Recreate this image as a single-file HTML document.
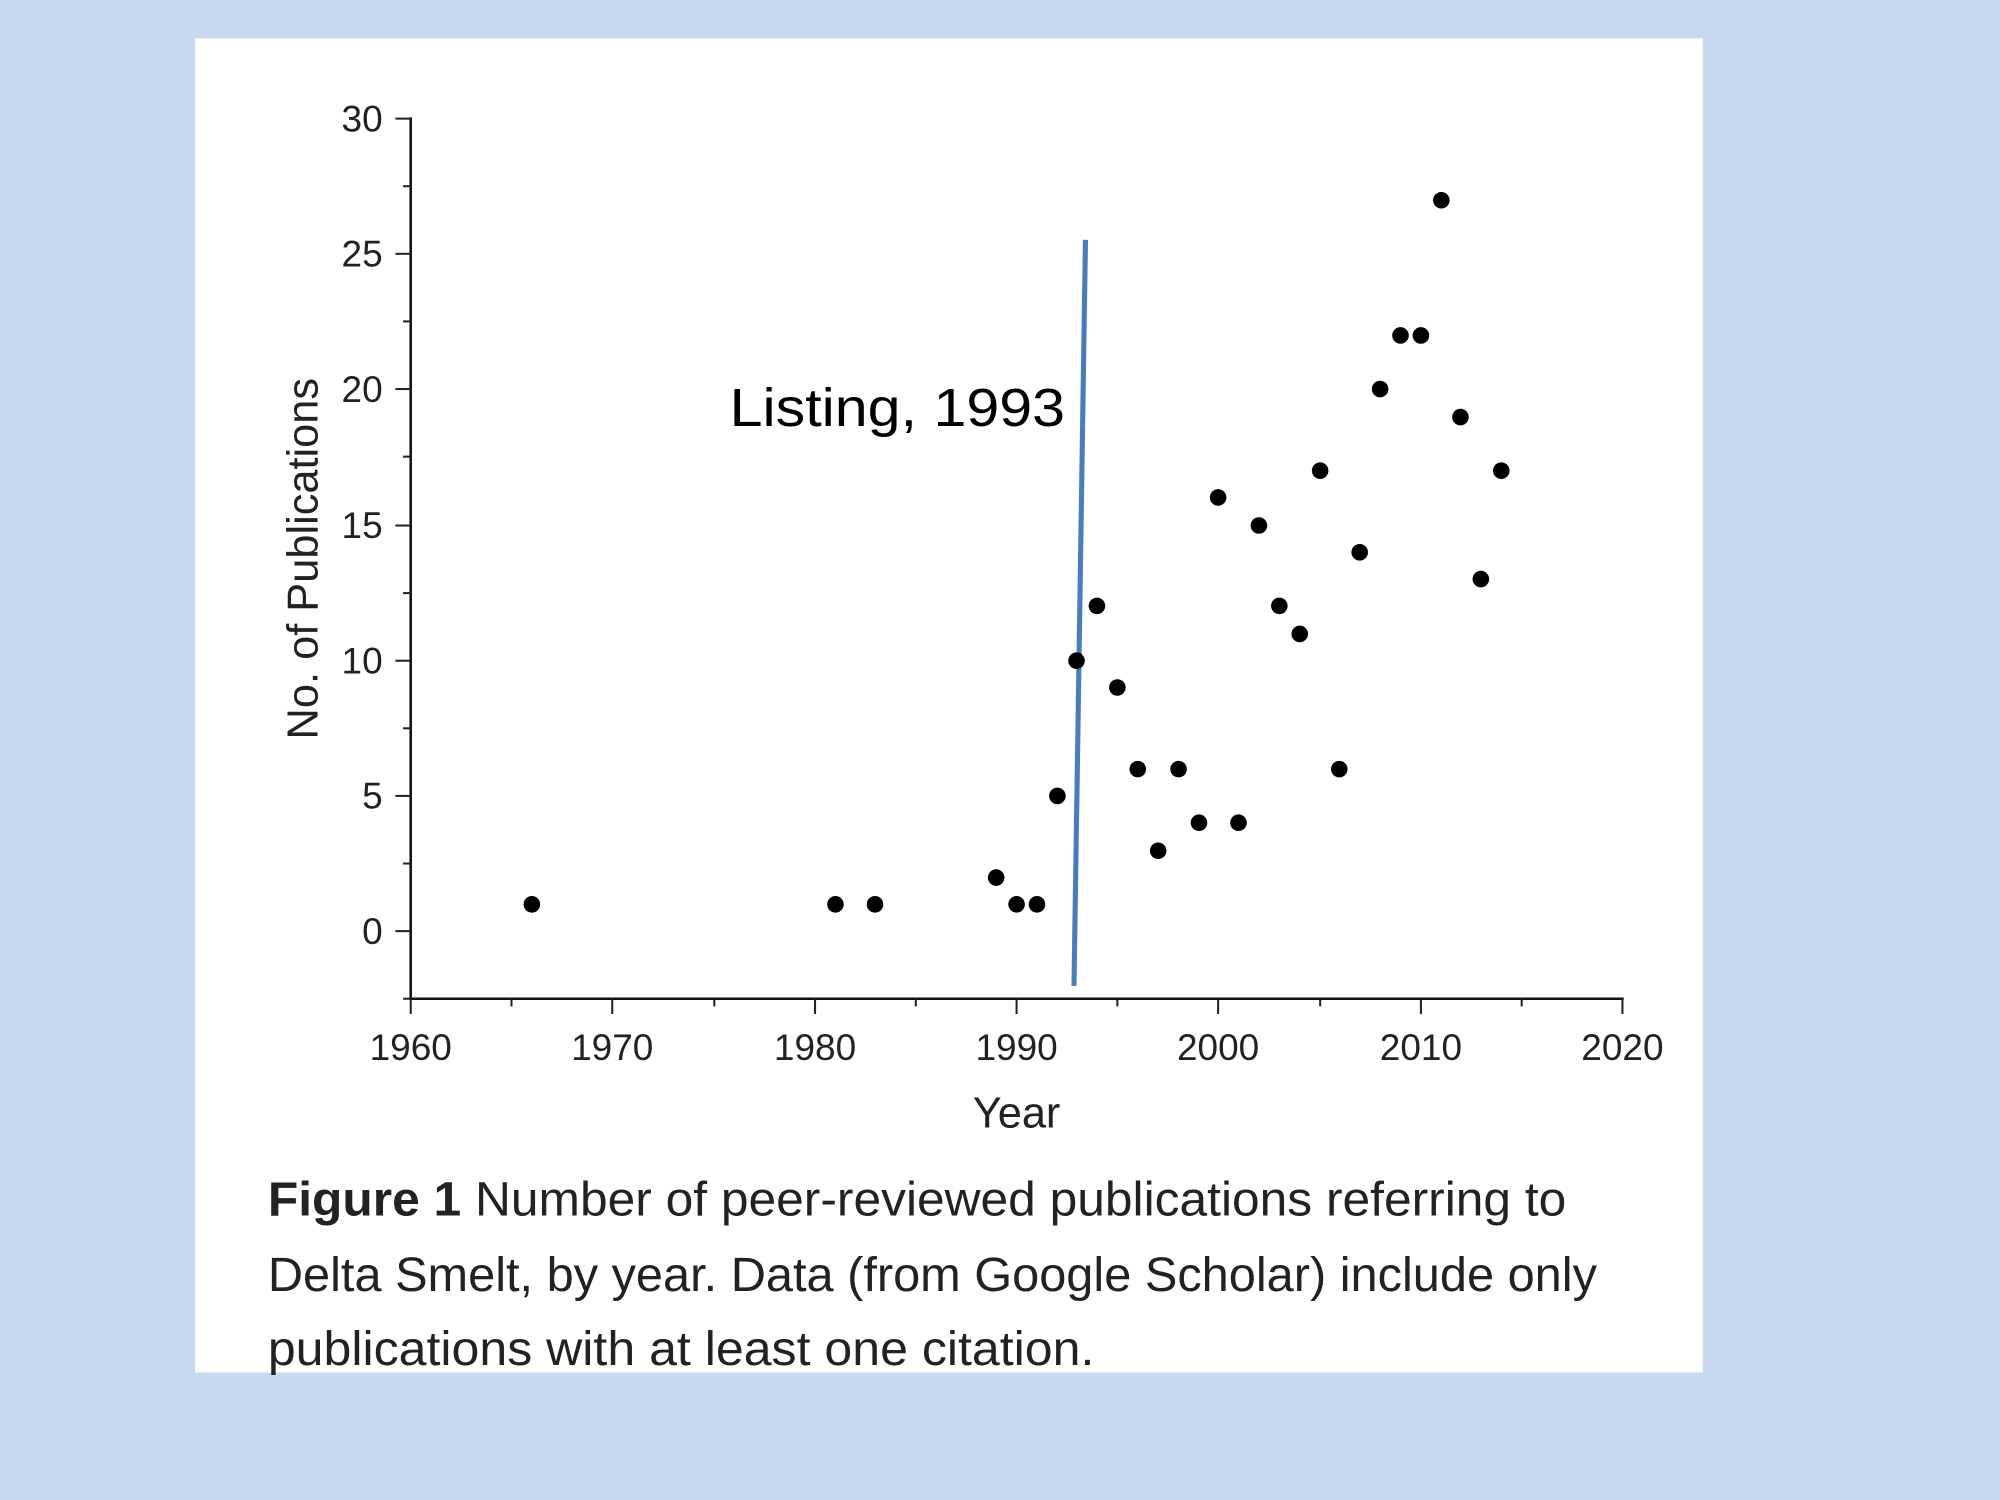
<!DOCTYPE html>
<html><head><meta charset="utf-8"><style>html,body{margin:0;padding:0;background:#c6d9f0;}svg{display:block}</style></head>
<body>
<svg width="2000" height="1500" viewBox="0 0 1568 1176" xmlns="http://www.w3.org/2000/svg">
<rect width="1568" height="1176" fill="#c6d9f0"/>
<rect x="153" y="30" width="1182" height="1046" fill="#fff"/>
<g stroke="#111" stroke-width="2" fill="none">
<line x1="322" y1="92" x2="322" y2="784"/>
<line x1="321" y1="783" x2="1273" y2="783"/>
</g>
<g stroke="#222" stroke-width="1.6">
<line x1="310" y1="730" x2="322" y2="730"/><line x1="310" y1="624" x2="322" y2="624"/>
<line x1="310" y1="518" x2="322" y2="518"/><line x1="310" y1="412" x2="322" y2="412"/>
<line x1="310" y1="305" x2="322" y2="305"/><line x1="310" y1="199" x2="322" y2="199"/>
<line x1="310" y1="93" x2="322" y2="93"/>
<line x1="316" y1="677" x2="322" y2="677"/><line x1="316" y1="571" x2="322" y2="571"/>
<line x1="316" y1="465" x2="322" y2="465"/><line x1="316" y1="358" x2="322" y2="358"/>
<line x1="316" y1="252" x2="322" y2="252"/><line x1="316" y1="146" x2="322" y2="146"/>
<line x1="316" y1="783" x2="322" y2="783"/>
<line x1="480" y1="783" x2="480" y2="795"/><line x1="639" y1="783" x2="639" y2="795"/>
<line x1="797" y1="783" x2="797" y2="795"/><line x1="955" y1="783" x2="955" y2="795"/>
<line x1="1114" y1="783" x2="1114" y2="795"/><line x1="1272" y1="783" x2="1272" y2="795"/>
<line x1="322" y1="783" x2="322" y2="795"/>
<line x1="401" y1="783" x2="401" y2="789"/><line x1="560" y1="783" x2="560" y2="789"/>
<line x1="718" y1="783" x2="718" y2="789"/><line x1="876" y1="783" x2="876" y2="789"/>
<line x1="1035" y1="783" x2="1035" y2="789"/><line x1="1193" y1="783" x2="1193" y2="789"/>
</g>
<g font-family="Liberation Sans, sans-serif" font-size="29" fill="#222" text-anchor="end">
<text x="300" y="740">0</text><text x="300" y="634">5</text><text x="300" y="528">10</text>
<text x="300" y="422">15</text><text x="300" y="315">20</text><text x="300" y="209">25</text>
<text x="300" y="103">30</text>
</g>
<g font-family="Liberation Sans, sans-serif" font-size="29" fill="#222" text-anchor="middle">
<text x="322" y="831">1960</text><text x="480" y="831">1970</text><text x="639" y="831">1980</text>
<text x="797" y="831">1990</text><text x="955" y="831">2000</text><text x="1114" y="831">2010</text>
<text x="1272" y="831">2020</text>
<text x="797" y="884" font-size="34">Year</text>
<text transform="translate(249,438) rotate(-90)" font-size="34">No. of Publications</text>
</g>
<line x1="851" y1="188" x2="842" y2="773" stroke="#4a7ebb" stroke-width="4"/>
<text x="572" y="334" font-family="Liberation Sans, sans-serif" font-size="42" fill="#000" textLength="263" lengthAdjust="spacingAndGlyphs">Listing, 1993</text>
<g fill="#000">
<circle cx="417" cy="709" r="6.5"/><circle cx="655" cy="709" r="6.5"/><circle cx="686" cy="709" r="6.5"/>
<circle cx="781" cy="688" r="6.5"/><circle cx="797" cy="709" r="6.5"/><circle cx="813" cy="709" r="6.5"/>
<circle cx="829" cy="624" r="6.5"/><circle cx="844" cy="518" r="6.5"/><circle cx="860" cy="475" r="6.5"/>
<circle cx="876" cy="539" r="6.5"/><circle cx="892" cy="603" r="6.5"/><circle cx="908" cy="667" r="6.5"/>
<circle cx="924" cy="603" r="6.5"/><circle cx="940" cy="645" r="6.5"/><circle cx="955" cy="390" r="6.5"/>
<circle cx="971" cy="645" r="6.5"/><circle cx="987" cy="412" r="6.5"/><circle cx="1003" cy="475" r="6.5"/>
<circle cx="1019" cy="497" r="6.5"/><circle cx="1035" cy="369" r="6.5"/><circle cx="1050" cy="603" r="6.5"/>
<circle cx="1066" cy="433" r="6.5"/><circle cx="1082" cy="305" r="6.5"/><circle cx="1098" cy="263" r="6.5"/>
<circle cx="1114" cy="263" r="6.5"/><circle cx="1130" cy="157" r="6.5"/><circle cx="1145" cy="327" r="6.5"/>
<circle cx="1161" cy="454" r="6.5"/><circle cx="1177" cy="369" r="6.5"/>
</g>
<g font-family="Liberation Sans Narrow, Liberation Sans, sans-serif" font-size="38" fill="#222" lengthAdjust="spacingAndGlyphs">
<text x="210" y="953" textLength="1018" lengthAdjust="spacingAndGlyphs"><tspan font-weight="bold">Figure 1</tspan>  Number of peer-reviewed publications referring to</text>
<text x="210" y="1012" textLength="1042" lengthAdjust="spacingAndGlyphs">Delta Smelt, by year. Data (from Google Scholar) include only</text>
<text x="210" y="1070" textLength="648" lengthAdjust="spacingAndGlyphs">publications with at least one citation.</text>
</g>
</svg>
</body></html>
